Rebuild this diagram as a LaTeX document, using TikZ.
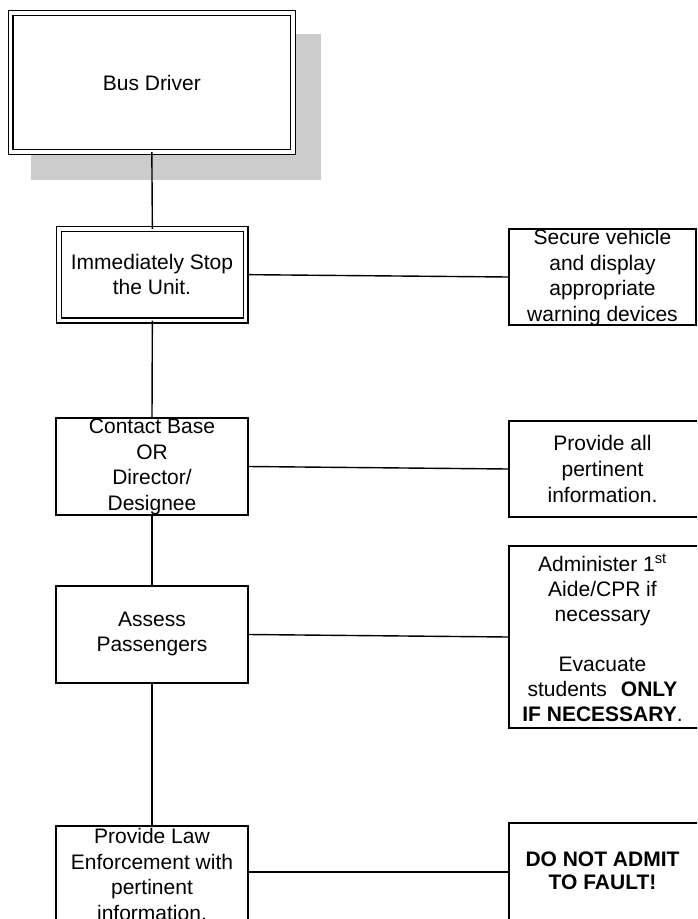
\documentclass[tikz,border=0pt]{standalone}
\usepackage{fontspec}
\setmainfont{Liberation Sans}
\begin{document}
\begin{tikzpicture}[x=1pt,y=-1pt,
  txt/.style={align=center,inner sep=0pt,font=\fontsize{21}{25.6}\selectfont},
  dbox/.style={draw=black,line width=1.5pt,double=white,double distance=3.4pt,fill=white,rectangle,inner sep=0pt},
  sbox/.style={draw=black,line width=1.5pt,fill=white,rectangle,inner sep=0pt},
  conn/.style={draw=black,line width=1.4pt}]
\useasboundingbox (0,0) rectangle (697,919);
\clip (0,0) rectangle (697,919);
% shadow
\fill[black!20] (31,33.5) rectangle (321,180);
% boxes (positions by corners)
\path[dbox] (10.7,13) rectangle (293,152);
\node[inner sep=0pt,minimum width=282.3pt,minimum height=139pt] (bus) at (151.85,82.5) {};
\path[dbox] (59,229) rectangle (245.7,320.3);
\node[inner sep=0pt,minimum width=186.7pt,minimum height=91.3pt] (stop) at (152.35,274.65) {};
\node[sbox,minimum width=192pt,minimum height=97pt] (contact) at (152,466.5) {};
\node[sbox,minimum width=192pt,minimum height=97pt] (assess) at (152,634.5) {};
\node[sbox,minimum width=192pt,minimum height=100pt] (law) at (152,876) {};
\node[sbox,minimum width=187pt,minimum height=96pt] (secure) at (602.5,277) {};
\node[sbox,minimum width=200pt,minimum height=96pt] (provide) at (609,469) {};
\node[sbox,minimum width=200pt,minimum height=182pt] (admin) at (609,637) {};
\node[sbox,minimum width=200pt,minimum height=110pt] (fault) at (609,878) {};
% texts
\node[txt] (tbus) at (bus.center) {Bus Driver};
\node[txt] (tstop) at (152,274.5) {Immediately Stop\\the Unit.};
\node[txt] (tcontact) at (152,467) {Contact Base\\OR\\Director/\\Designee};
\node[txt] (tassess) at (152,634) {Assess\\Passengers};
\node[txt] (tlaw) at (152,874.5) {Provide Law\\Enforcement with\\pertinent\\information.};
\node[txt] (tsecure) at (602.5,277.5) {Secure vehicle\\and display\\appropriate\\warning devices};
\node[txt] (tprovide) at (602.5,469) {Provide all\\pertinent\\information.};
\node[txt,font=\fontsize{21}{25}\selectfont] (tadmin) at (602.5,638) {Administer 1\textsuperscript{st}\\Aide/CPR if\\necessary\\[25pt]Evacuate\\students\hspace{14pt}\textbf{ONLY}\\\textbf{IF NECESSARY}.};
\node[txt,font=\fontsize{21}{23.5}\selectfont\bfseries] (tfault) at (602.5,871) {DO NOT ADMIT\\TO FAULT!};
% connectors
\draw[conn] (bus.south) -- (stop.north);
\draw[conn] (stop.south) -- (contact.north);
\draw[conn] (contact.south) -- (assess.north);
\draw[conn] (assess.south) -- (law.north);
\draw[conn] (stop.east) ++(1.7,0) coordinate (s1) -- (secure.west);
\draw[conn] (contact.east) -- (provide.west);
\draw[conn] (assess.east) -- (admin.west);
\draw[conn] (248,872) coordinate (l1) -- (509,872) coordinate (f1);
\end{tikzpicture}
\end{document}
